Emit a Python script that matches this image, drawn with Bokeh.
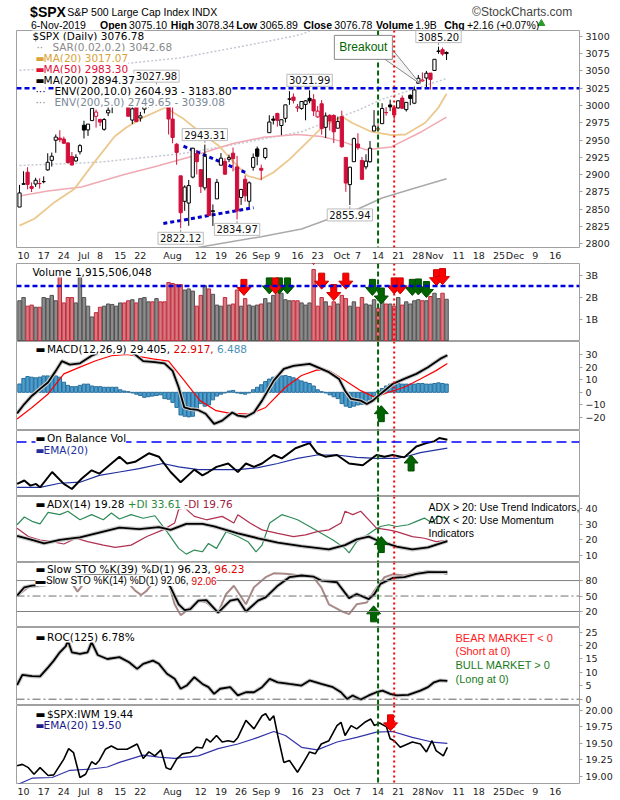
from bokeh.plotting import figure
from bokeh.layouts import column
from bokeh.models import Range1d, FixedTicker, Span, Label, PrintfTickFormatter
from bokeh.embed import file_html
from bokeh.resources import INLINE

# ---------------- data (trading-day index: 0 = 7-Jun-2019) ----------------
tick_idx = [1, 6, 11, 16, 20, 25, 30, 38, 45, 50, 55, 60, 64, 69, 74, 80, 84, 89, 94, 99, 103, 109, 114, 119, 123, 128, 133]
tick_lbl = ["10", "17", "24", "Jul", "8", "15", "22", "Aug", "12", "19", "26", "Sep", "9", "16", "23", "Oct", "7", "14", "21", "28", "Nov", "11", "18", "25", "Dec", "9", "16"]

opens = [2852.87, 2885.83, 2903.27, 2882.73, 2886.24, 2886.82, 2889.75, 2906.71, 2920.55, 2949.60,
         2952.71, 2951.42, 2945.78, 2926.07, 2919.66, 2932.94, 2971.41, 2964.66, 2978.08, 2984.25,
         2979.77, 2965.52, 2989.30, 2999.62, 3003.36, 3017.80, 3012.13, 3005.10, 2978.87, 3004.26,
         2981.93, 2994.74, 2998.77, 3016.26, 3013.25, 3024.47, 3007.66, 3016.22, 2980.32, 2943.90,
         2898.07, 2861.18, 2858.65, 2896.21, 2930.51, 2907.07, 2880.72, 2894.15, 2846.20, 2864.74,
         2913.48, 2919.01, 2922.04, 2930.94, 2911.07, 2866.70, 2893.14, 2861.28, 2910.37, 2937.09,
         2909.01, 2924.67, 2960.60, 2980.33, 2988.43, 2971.01, 2981.41, 3009.08, 3012.21, 2996.41,
         2995.67, 3001.50, 3010.36, 3008.42, 2983.50, 3002.43, 2968.35, 2985.73, 2985.47, 2967.07,
         2983.69, 2924.78, 2885.38, 2918.56, 2944.23, 2920.40, 2911.10, 2918.55, 2963.07, 2965.81,
         2973.61, 2989.68, 3000.77, 2996.84, 2996.48, 3010.73, 2994.01, 3014.78, 3003.32, 3032.12,
         3035.39, 3039.74, 3046.90, 3050.72, 3078.96, 3080.80, 3075.10]
highs = [2884.97, 2904.77, 2910.61, 2888.57, 2895.24, 2894.45, 2897.27, 2930.79, 2931.74, 2958.06,
         2964.15, 2954.92, 2946.52, 2932.59, 2929.30, 2943.98, 2977.93, 2973.21, 2995.84, 2994.03,
         2980.76, 2981.90, 3002.98, 3002.33, 3013.92, 3017.80, 3015.02, 3005.26, 2998.28, 3006.02,
         2990.71, 3005.90, 3019.59, 3016.31, 3027.98, 3025.61, 3017.19, 3017.40, 3013.59, 2945.50,
         2898.07, 2884.40, 2892.17, 2938.72, 2935.75, 2907.58, 2943.31, 2894.15, 2856.67, 2893.63,
         2931.00, 2923.63, 2928.73, 2939.08, 2927.01, 2879.27, 2898.79, 2890.03, 2930.50, 2940.43,
         2914.39, 2938.84, 2985.86, 2985.03, 2989.43, 2979.39, 3000.93, 3020.74, 3017.33, 3002.19,
         3006.21, 3007.83, 3021.99, 3016.37, 2999.15, 3007.98, 2989.82, 2987.28, 2987.31, 2983.85,
         2992.53, 2924.78, 2911.13, 2953.74, 2959.75, 2925.47, 2929.32, 2948.46, 2993.28, 2972.84,
         3003.28, 2997.54, 3008.29, 3000.00, 3007.33, 3014.57, 3004.78, 3016.07, 3027.39, 3044.08,
         3047.87, 3050.10, 3046.90, 3066.95, 3085.20, 3083.95, 3078.34]
lows = [2852.87, 2885.51, 2878.53, 2874.68, 2881.99, 2879.62, 2887.30, 2905.44, 2911.43, 2931.50,
        2946.87, 2944.05, 2916.01, 2912.99, 2918.57, 2929.05, 2952.22, 2955.92, 2977.96, 2967.97,
        2970.09, 2963.44, 2984.62, 2988.80, 3001.87, 3008.77, 3001.15, 2984.25, 2973.09, 2975.86,
        2976.65, 2988.56, 2996.82, 2997.24, 3012.59, 3014.30, 3000.94, 2958.08, 2945.23, 2914.11,
        2822.12, 2847.42, 2825.71, 2894.47, 2900.15, 2873.14, 2877.05, 2839.64, 2825.51, 2864.74,
        2913.48, 2899.60, 2917.91, 2904.51, 2834.97, 2856.00, 2860.59, 2853.05, 2905.67, 2913.32,
        2891.85, 2921.86, 2960.60, 2972.51, 2969.39, 2957.01, 2975.31, 3000.92, 3002.90, 2990.67,
        2993.73, 2978.57, 3003.16, 2984.68, 2982.23, 2957.73, 2952.86, 2963.71, 2945.53, 2967.07,
        2938.70, 2874.93, 2855.94, 2918.56, 2935.68, 2892.66, 2907.41, 2917.12, 2963.07, 2962.94,
        2973.61, 2985.20, 2991.79, 2976.31, 2995.35, 2995.04, 2991.21, 3000.42, 3001.94, 3032.12,
        3034.81, 3025.96, 3023.19, 3050.72, 3074.87, 3072.15, 3065.89]
closes = [2873.34, 2886.73, 2885.72, 2879.84, 2891.64, 2886.98, 2889.67, 2917.75, 2926.46, 2954.18,
          2950.46, 2945.35, 2917.38, 2913.78, 2924.92, 2941.76, 2964.33, 2973.01, 2995.82, 2990.41,
          2975.95, 2979.63, 2993.07, 2999.91, 3013.77, 3014.30, 3004.04, 2984.42, 2995.11, 2976.61,
          2985.03, 3005.47, 3019.56, 3003.67, 3025.86, 3020.97, 3013.18, 2980.38, 2953.56, 2932.05,
          2844.74, 2881.77, 2883.98, 2938.09, 2918.65, 2882.70, 2926.32, 2840.60, 2847.60, 2888.68,
          2923.65, 2900.51, 2924.43, 2922.95, 2847.11, 2878.38, 2869.16, 2887.94, 2924.58, 2926.46,
          2906.27, 2937.78, 2976.00, 2978.71, 2978.43, 2979.39, 3000.93, 3009.57, 3007.39, 2997.96,
          3005.70, 3006.73, 3006.79, 2992.07, 2991.78, 2966.60, 2984.87, 2977.62, 2961.79, 2976.74,
          2940.25, 2887.61, 2910.63, 2952.01, 2938.79, 2893.06, 2919.40, 2938.13, 2970.27, 2966.15,
          2995.68, 2989.69, 2997.95, 2986.20, 3006.72, 2995.99, 3004.52, 3010.29, 3022.55, 3039.42,
          3036.89, 3046.77, 3037.56, 3066.91, 3078.27, 3074.62, 3076.78]
volume_b = [1.85, 2.0, 1.6, 1.65, 1.55, 1.55, 2.0, 1.95, 2.1, 1.85,
            3.0, 1.75, 2.0, 2.0, 1.75, 2.95, 2.0, 1.6, 1.1, 1.3,
            1.55, 1.6, 1.7, 1.68, 1.6, 1.75, 1.75, 1.85, 1.9, 1.75,
            1.95, 2.0, 1.8, 1.8, 1.95, 1.8, 1.8, 2.7, 2.65, 2.6,
            2.6, 2.35, 2.4, 2.3, 1.6, 2.1, 2.55, 2.4, 2.15, 1.65,
            1.6, 2.0, 1.65, 1.7, 2.35, 1.6, 1.95, 1.65, 1.6, 1.65,
            1.7, 1.95, 1.75, 2.1, 2.35, 2.2, 1.9, 1.85, 1.85, 1.85,
            1.75, 1.65, 1.75, 3.3, 1.6, 2.0, 1.8, 1.6, 1.8, 1.7,
            2.1, 1.95, 1.6, 1.8, 1.55, 2.0, 1.7, 1.65, 1.9, 1.5,
            1.95, 1.7, 1.7, 1.6, 2.0, 1.65, 1.8, 1.7, 1.85, 1.9,
            1.85, 1.85, 2.05, 2.2, 1.95, 2.2, 1.92]

ma20_x = [0, 3.7, 8.7, 13.6, 18.6, 23.6, 26.5, 30.5, 36.2, 40.4, 44.7, 49.6, 52.5, 56.6, 59.8, 63, 67, 71.4, 75.4, 80, 82.5, 87.3, 92.3, 95.8, 100.7, 104, 106]
ma20_y = [2826, 2836, 2860, 2879, 2918, 2955, 2968, 2982, 2997, 2982, 2962, 2941, 2922, 2898, 2893, 2903, 2922, 2947, 2970, 2984, 2975, 2962, 2957, 2958, 2975, 2997, 3017]
ma50_x = [0, 7, 15.4, 26, 34, 42, 53, 60.6, 69, 75, 80, 86, 92.3, 99.8, 106]
ma50_y = [2869, 2876, 2882, 2900, 2912, 2925, 2945, 2954, 2958, 2955, 2948, 2936, 2940, 2962, 2983]
ma200_x = [0, 10, 20, 30, 40, 50, 60, 70, 78, 84, 90, 98, 106]
ma200_y = [2774, 2776, 2779, 2783, 2790, 2800, 2810, 2821, 2838, 2850, 2866, 2880, 2894]
env5_x = [0, 20, 40, 50, 60, 70, 78, 84, 90, 98, 106]
env5_y = [2913, 2918, 2930, 2940, 2951, 2962, 2980, 2993, 3009, 3024, 3039]
env10_x = [0, 20, 40, 50, 60, 70, 78, 84, 90, 98, 106]
env10_y = [3051, 3057, 3069, 3080, 3091, 3103, 3122, 3135, 3153, 3168, 3184]
support_level = 3025
vol_level = 2.53
tri_up_x, tri_up_y = [40.7, 56.1], [2941, 2903]
tri_lo_x, tri_lo_y = [35.7, 58.1], [2829, 2852]
note_idx = [34, 46, 40, 54, 72, 82, 104]
note_side = [1, 1, -1, -1, 1, -1, 1]

macd_x = [-0.6, 1.2, 3.1, 5.1, 7.1, 9.0, 10.5, 12.5, 15, 17.9, 21, 24, 26.5, 28.7, 30.7, 33.6, 36, 38, 39.5, 40.9, 42.4, 44.3, 46.2, 48.3, 50.3, 52.8, 54.2, 56.2, 58.2, 60.2, 63.1, 65.6, 68, 72, 73.9, 76.8, 79.3, 80.8, 82.3, 84.7, 86.2, 87.7, 89.6, 92.6, 95.5, 98.5, 101.4, 104.4, 106.2]
macd_y = [-16.7, -9.3, -2.7, 2.7, 8, 17, 24.7, 22, 23, 29, 33, 34.5, 33, 30, 24.7, 24, 23, 17, 4, -12, -13.3, -14, -17, -25, -22.5, -16, -18.5, -19.4, -16, -6.6, 9.3, 18.6, 21, 22.5, 20, 16, 10.6, 1.3, -5.3, -6.6, -9.3, -6.6, -1.3, 6.6, 10.6, 14.6, 19.9, 26.5, 29.4]
sig_x = [-0.6, 3.1, 7.1, 11, 15, 18.9, 22.8, 26.7, 33.1, 37, 40.9, 44.8, 48.8, 52.3, 57.2, 61.1, 66, 70, 73.9, 76.8, 80.8, 84.7, 88.2, 91.6, 95.5, 99.5, 103.4, 106.2]
sig_y = [-21.2, -12, -1.3, 14.6, 20, 25, 29, 30, 26.5, 24.7, 9.3, -6.6, -14.6, -16.7, -17.2, -12, 4, 13.3, 17.8, 17.2, 9.3, 1.3, -4, 0, 4, 10.6, 17.2, 22.9]
macd_hist = [6.6, 11, 12.5, 12, 11.5, 12, 13, 13, 13, 13,
             12, 8, 5.5, 4.5, 4.5, 5.5, 6.5, 6.5, 5, 4.5,
             4.5, 4, 4, 4, 4, 2, 1, 0.5, -0.5, -1.5,
             -2.5, -4, -3.5, -3, -2.5, -2, -5, -5.5, -8, -12,
             -18, -19, -19.5, -19, -13, -9, -11, -10, -6, -3,
             -1.5, -0.5, 1, 1.5, -0.5, -1, -1.5, -0.5, 2, 4,
             6, 8.5, 10.5, 12, 13, 13, 13.3, 12.5, 11.5, 10,
             9, 8, 7, 5, 2, 0.5, -0.5, -2, -3.5, -5,
             -9, -11, -12, -11, -10, -9.5, -8, -6, -3, 1,
             3, 5, 6.5, 7, 7, 6.5, 6.5, 6.5, 6.5, 7,
             7, 6.5, 6.5, 7, 7.5, 7, 6.5]

obv_x = [-0.6, 1.2, 2.7, 4.1, 5.1, 8.1, 11, 13, 15.4, 17.9, 19.8, 24.8, 26.7, 28.7, 32.1, 34.6, 37.5, 40, 43.4, 45.4, 46.9, 48.9, 51.8, 54.2, 56.2, 58.2, 60.2, 63.1, 65.1, 68.5, 72, 73.9, 75.9, 78.8, 81.8, 85.2, 88.6, 90.6, 92.6, 95.5, 98.5, 101, 102.9, 104.2, 106.2]
obv_y = [37, 47, 32, 37, 27, 72, 37, 22, 52, 77, 67, 117, 97, 102, 127, 117, 72, 42, 79, 62, 72, 87, 97, 72, 97, 87, 97, 122, 112, 142, 157, 127, 117, 122, 97, 92, 122, 117, 122, 115, 147, 157, 162, 172, 167]
obv_ema_x = [-0.6, 5.1, 10, 15, 19.8, 24.8, 29.7, 35.6, 39.5, 44.4, 54.2, 59.2, 64.1, 69, 73.9, 78.8, 83.7, 88.6, 93.6, 96.5, 99.5, 106.2]
obv_ema_y = [27, 27, 39, 42, 62, 72, 82, 97, 87, 79, 79, 85, 97, 112, 122, 122, 115, 112, 112, 119, 129, 142]
obv_level = 160

adx_x = [-0.6, 3.1, 6.1, 10, 15, 19.8, 24.8, 29.7, 34.6, 37.5, 41.4, 45.4, 48.3, 54.2, 59.2, 64.1, 70, 76.8, 80.8, 83.7, 86.7, 88.6, 93.6, 97.5, 101.4, 106.2]
adx_y = [22.6, 20, 17.8, 20, 21.7, 24.8, 28, 27, 28.3, 26.5, 30.4, 30.4, 28.7, 24.3, 21.1, 18.3, 16, 13.9, 16.7, 20.4, 22.2, 20, 15.7, 13.9, 15.2, 19.3]
pdi_x = [-0.6, 1.2, 3.1, 5.1, 7.1, 10, 12, 15, 17.9, 20.8, 22.8, 24.8, 27.7, 30.7, 33.6, 36.6, 39.5, 41.4, 43.4, 45.4, 46.9, 48.9, 51.3, 54.2, 56.7, 58.7, 60.2, 62.1, 65.1, 67, 69, 72, 74.9, 77.8, 80.8, 81.8, 83.7, 85.7, 88.1, 89.6, 91.6, 93.6, 96.5, 98.5, 100.5, 102.4, 103.9, 106.2]
pdi_y = [29.8, 34.8, 32, 30.4, 37.8, 36.3, 38.5, 33, 36.3, 33, 37.4, 33.5, 36.3, 34, 35.6, 25.4, 14.6, 10.9, 13.5, 12.4, 17.8, 14.6, 25.4, 22.2, 18.9, 12.4, 16.7, 30.9, 36.3, 34.8, 33, 28.7, 24.3, 20, 14.6, 11.7, 18.9, 22.2, 26.5, 28.7, 29.8, 28.7, 29.8, 32, 34.1, 30.9, 35.6, 33.6]
mdi_x = [-0.6, 2.2, 5.1, 8.1, 11, 14, 16.9, 20.8, 23.8, 27.7, 31.6, 35.6, 38.5, 39.5, 41, 43.4, 46.4, 50.3, 53.2, 54.2, 57.2, 60.2, 64.1, 68, 71, 73.9, 76.8, 79.8, 80.8, 82.7, 84.7, 86.7, 88.6, 91.6, 93.6, 97.5, 100.5, 103.4, 106.2]
mdi_y = [27.6, 22.2, 20, 18.9, 17.4, 21.1, 18.9, 16.7, 15.2, 16.7, 22.2, 26.5, 30.9, 39.6, 40.7, 35.2, 33, 35.2, 30.9, 36.3, 30.9, 26.5, 24.3, 22.2, 23.3, 25.4, 26.5, 30.9, 38.5, 36.3, 38.5, 33, 27.6, 26.5, 25.4, 22.2, 21.1, 18.9, 19.8]

k39_x = [-0.6, 1.2, 3.1, 6.1, 8, 12, 16, 20, 24, 28, 32, 35.5, 37.5, 39.5, 41, 42.4, 44.4, 46.4, 49.3, 52.3, 54.2, 56.2, 59.2, 61.1, 64.1, 67, 70, 72.9, 74.9, 78.8, 81.8, 83.7, 86.7, 88.1, 89.6, 92.6, 95.5, 98.5, 101.4, 106.2]
k39_y = [50.7, 67, 70, 71.5, 78, 85, 90, 92, 93, 90, 88, 86, 67, 34, 22.6, 24.6, 41, 42, 18, 41, 44, 20, 41, 47.4, 70, 86.5, 89.8, 87.8, 80, 76.7, 46, 54, 44, 54, 73.5, 85, 86.5, 93, 96.3, 96.2]
k14_x = [-0.6, 2.2, 6.1, 10, 13, 14.4, 16, 20, 25, 28.7, 30.2, 31.6, 34, 36.6, 38.5, 40, 41.4, 44.4, 46.4, 49.3, 51.3, 53.2, 56.2, 58.2, 61.1, 63.1, 66, 70, 72.9, 74.9, 76.8, 79.8, 81.8, 83.7, 86.2, 88.1, 90.6, 92.6, 95.5, 98.5, 101.4, 104.4, 106.2]
k14_y = [50.7, 67, 72, 85, 75, 58.5, 75, 90, 92, 60.5, 52, 60.5, 85, 86.5, 34, 13, 21, 42, 37.6, 18, 54, 70, 34, 67, 86.5, 94, 93, 90, 86.5, 67, 34, 21, 15, 34, 37.6, 60.5, 86.5, 92, 90, 94.5, 98.3, 96.3, 92.1]

roc_x = [-0.6, 0.7, 3.1, 5.1, 7.1, 8.5, 10, 11.5, 12, 13, 15, 16.9, 17.9, 19.4, 21.8, 24.8, 27.2, 29.2, 30.7, 33.1, 34.6, 36.6, 38.5, 40, 41.5, 43.4, 45.4, 46.9, 48.3, 49.8, 52.3, 54.2, 56.2, 58.2, 60.2, 62.1, 64.1, 67, 70, 72, 74.9, 77.8, 79.8, 81.3, 82.7, 84.7, 86.7, 88.6, 90.1, 92, 93.6, 96.5, 99.5, 101.4, 102.9, 104.4, 106.2]
roc_y = [5.3, 9.1, 8.6, 8.5, 11.9, 14.4, 17.5, 19.8, 21.9, 17.5, 16.9, 17.5, 21.3, 16.5, 15, 15.7, 13.8, 11.3, 13.2, 14.4, 13.2, 9.5, 7.6, 3.9, 5.1, 8.2, 5.7, 4.5, 2, 3.9, 4.5, 1.4, 2.6, 2.6, 4.5, 7.6, 6.3, 5.7, 5.1, 7, 5.7, 4.5, 2.6, 0.1, 1.4, -0.1, 1.4, 2.6, 3.2, 2, 1.4, 1.6, 3.2, 4.5, 6.3, 7, 6.8]

iwm_x = [-0.6, 0.7, 2.2, 3.6, 5.1, 7.1, 8.5, 11, 12.2, 13.4, 15, 16.4, 17.9, 18.9, 19.8, 21.3, 22.8, 24.3, 26.7, 29.2, 30.7, 32.1, 33.6, 35.1, 36.4, 37.5, 39, 40.4, 42.4, 43.9, 45.4, 46.4, 47.4, 48.9, 50.3, 51.8, 53.2, 54.2, 56.2, 58.2, 60.2, 61.1, 62.1, 63.1, 64.1, 65.6, 67, 69, 70.5, 72, 73.4, 74.9, 76.8, 78.8, 79.8, 80.8, 82.3, 83.7, 85.7, 87.2, 88.1, 89.4, 91.1, 92, 93, 94.5, 97.5, 99.5, 101, 102.4, 103.4, 105.2, 106.2]
iwm_y = [19.16, 19.18, 19.13, 19.03, 19.13, 19.01, 19.02, 19.26, 19.42, 19.36, 18.98, 19.03, 19.22, 19.18, 19.24, 19.41, 19.46, 19.41, 19.41, 19.49, 19.27, 19.37, 19.31, 19.40, 19.13, 19.10, 19.26, 19.34, 19.36, 19.44, 19.43, 19.57, 19.52, 19.62, 19.52, 19.54, 19.52, 19.59, 19.85, 19.72, 19.92, 19.95, 19.85, 19.92, 19.62, 19.21, 19.24, 19.06, 19.21, 19.37, 19.34, 19.49, 19.54, 19.77, 19.82, 19.62, 19.77, 19.72, 19.82, 19.87, 19.77, 19.81, 19.75, 19.57, 19.54, 19.44, 19.52, 19.49, 19.37, 19.54, 19.39, 19.31, 19.44]
iwm_ema_x = [-0.6, 3.1, 8.1, 12.5, 17.9, 21.8, 24.8, 30.7, 34.6, 38.5, 44.4, 49.3, 54.2, 59.2, 63.1, 66, 70, 73.9, 78.8, 83.7, 88.6, 92.6, 97.5, 102.4, 106.2]
iwm_ema_y = [18.87, 18.97, 18.98, 19.09, 19.11, 19.14, 19.21, 19.32, 19.29, 19.27, 19.31, 19.42, 19.49, 19.59, 19.68, 19.62, 19.44, 19.40, 19.52, 19.59, 19.67, 19.68, 19.59, 19.52, 19.50]

signal_green_day = 89
signal_red_day = 93
vol_arrow_red_x = [55.7, 63.5, 73, 75, 78, 81, 93, 94.5, 103.5, 105]
vol_arrow_red_tip = [2.1, 2.17, 3.53, 2.39, 1.86, 2.39, 2.17, 2.17, 2.55, 2.6]
vol_arrow_green_x = [62, 64.5, 66.5, 87.6, 89.8, 97.5, 99, 101]
vol_arrow_green_tip = [2.17, 2.17, 2.17, 2.1, 1.7, 2.1, 2.12, 2.0]

assert len(opens) == len(highs) == len(lows) == len(closes) == len(volume_b) == len(macd_hist) == 107

# ---------------- styling helpers ----------------
FONT = "DejaVu Sans"
ARIAL = "Liberation Sans"
AXF = "9.5px"
XR = Range1d(-0.75, 139)
PPX = 563 / 139.75
RED = "#d0103a"
GREEN_ARROW = "#006400"
RED_ARROW = "#ff0000"

DJ = {c: 0.636 for c in "0123456789$"}
DJ.update({' ': 0.318, '.': 0.318, ',': 0.318, '(': 0.390, ')': 0.390, '%': 0.950, '+': 0.838, '-': 0.361,
           ':': 0.337, 'A': 0.684, 'B': 0.686, 'C': 0.698, 'D': 0.770, 'E': 0.632, 'I': 0.295, 'K': 0.656,
           'L': 0.557, 'M': 0.863, 'N': 0.748, 'O': 0.787, 'P': 0.603, 'R': 0.695, 'S': 0.635, 'T': 0.611,
           'V': 0.684, 'W': 0.989, 'X': 0.685, 'a': 0.613, 'b': 0.635, 'c': 0.550, 'd': 0.635, 'e': 0.615,
           'i': 0.278, 'l': 0.278, 'm': 0.974, 'n': 0.634, 'o': 0.612, 'r': 0.411, 's': 0.521, 't': 0.392,
           'u': 0.634, 'v': 0.592, 'w': 0.818, 'y': 0.592, '\u25ac': 0.77})
AR = {c: 0.556 for c in "0123456789$"}
AR.update({' ': 0.278, '.': 0.278, ',': 0.278, '(': 0.333, ')': 0.333, '%': 0.889, 'S': 0.667, 'T': 0.611,
           'O': 0.778, 'K': 0.667, 'D': 0.722, 'l': 0.222, 'o': 0.556, 'w': 0.722, '\u25ac': 0.77})


def tw(s, size, font):
    table = AR if font == ARIAL else DJ
    return sum(table.get(c, 0.6) for c in s) * size


def panel(h, y0, y1, yticks, bottom=0, fmt=None):
    p = figure(width=620, height=h, x_range=XR, y_range=Range1d(y0, y1),
               output_backend="svg", toolbar_location=None,
               min_border_left=16, min_border_right=41, min_border_top=0,
               min_border_bottom=bottom, y_axis_location="right",
               x_axis_location=("below" if bottom else None))
    p.grid.visible = False
    p.outline_line_color = "#a0a0a0"
    ya = p.yaxis[0]
    ya.ticker = FixedTicker(ticks=yticks, minor_ticks=[])
    if fmt is not None:
        ya.formatter = fmt
    ya.axis_line_color = None
    ya.major_tick_in = 0
    ya.major_tick_out = 3
    ya.major_tick_line_color = "#a0a0a0"
    ya.minor_tick_line_color = None
    ya.major_label_text_font = FONT
    ya.major_label_text_font_size = AXF
    ya.major_label_text_color = "#222222"
    ya.major_label_standoff = 3
    if bottom:
        xa = p.xaxis[0]
        xa.ticker = FixedTicker(ticks=tick_idx, minor_ticks=[])
        xa.major_label_overrides = dict(zip(tick_idx, tick_lbl))
        xa.axis_line_color = None
        xa.major_tick_in = 0
        xa.major_tick_out = 0
        xa.minor_tick_line_color = None
        xa.major_label_text_font = FONT
        xa.major_label_text_font_size = AXF
        xa.major_label_text_color = "#222222"
        xa.major_label_standoff = 2
    p.add_layout(Span(location=signal_green_day, dimension="height", line_color="#006400",
                      line_dash="5 3", line_width=2))
    p.add_layout(Span(location=signal_red_day, dimension="height", line_color="#ff0000",
                      line_dash="2 3", line_width=2))
    return p


def legend(p, off, parts, x0=16, size=10.5, font=FONT):
    x = x0
    for text, color in parts:
        p.add_layout(Label(x=p.x_range.start, y=p.y_range.end, x_offset=x, y_offset=-off, text=text,
                           text_color=color, text_font=font, text_font_size=f"{size}px",
                           text_baseline="middle", background_fill_color="white"))
        x += tw(text, size, font)


def note(p, off, x_px, text, color, size=11):
    p.add_layout(Label(x=p.x_range.start, y=p.y_range.end, x_offset=x_px, y_offset=-off, text=text,
                       text_color=color, text_font=ARIAL, text_font_size=f"{size}px", text_baseline="middle"))


def arrows(p, xs, tips, up, ppu, fill, line):
    shape = [(0, 0), (7, 8), (3, 8), (3, 16), (-3, 16), (-3, 8), (-7, 8)]
    sgn = -1 if up else 1
    XS = [[x + dx / PPX for dx, dy in shape] for x in xs]
    YS = [[t + sgn * dy / ppu for dx, dy in shape] for t in tips]
    p.patches(XS, YS, fill_color=fill, line_color=line, line_width=1)


idx = list(range(len(closes)))
prev = [closes[0]] + closes[:-1]
ccol = [RED if c < pc else "#000000" for c, pc in zip(closes, prev)]
cfill = ["white" if c > o else col for c, o, col in zip(closes, opens, ccol)]
btop = [max(o, c) for o, c in zip(opens, closes)]
bbot = [min(o, c) for o, c in zip(opens, closes)]

# ---------------- header ----------------
hd = figure(width=620, height=30, x_range=Range1d(0, 620), y_range=Range1d(30, 0),
            output_backend="svg", toolbar_location=None, min_border=0,
            x_axis_location=None, y_axis_location=None, outline_line_color=None)
hd.grid.visible = False


def htext(x, y, text, size, bold=False, color="#000000", align="left"):
    hd.add_layout(Label(x=x, y=y, text=text, text_font=ARIAL, text_font_size=size,
                        text_font_style=("bold" if bold else "normal"), text_color=color,
                        text_align=align, text_baseline="middle"))


htext(15, 11, "$SPX", "14px", bold=True)
htext(56, 11, "S&P 500 Large Cap Index INDX", "10.5px")
htext(612, 11, "\u00a9StockCharts.com", "12px", color="#444444", align="right")
htext(16, 24, "6-Nov-2019", "10.5px")
hdr_keys = ["Open", "High", "Low", "Close", "Volume", "Chg"]
hdr_vals = ["3075.10", "3078.34", "3065.89", "3076.78", "1.9B", "+2.16 (+0.07%)"]
for kx, k, vx, v in zip([92, 170, 242, 316, 396, 471], hdr_keys, [124, 198, 268, 350, 439, 496], hdr_vals):
    htext(kx, 24, k, "10.5px", bold=True)
    htext(vx, 24, v, "10.5px")
hd.scatter(x=[578], y=[23], marker="triangle", size=7, fill_color="#2a9a2a", line_color="#2a9a2a")

# ---------------- main price panel ----------------
MAIN_LO, MAIN_HI = 2794.3, 3108.6
pm = panel(233, MAIN_LO, MAIN_HI, list(range(2800, 3101, 25)), bottom=14)
ppu_m = 219 / (MAIN_HI - MAIN_LO)
pm.line(env10_x, env10_y, line_color="#c4c8d2", line_dash="2 2", line_width=1.5)
pm.line(env5_x, env5_y, line_color="#c4c8d2", line_dash="2 2", line_width=1.5)
pm.line(ma200_x, ma200_y, line_color="#aaaaaa", line_width=1.5)
pm.line(ma50_x, ma50_y, line_color="#f0a9b2", line_width=1.5)
pm.line(ma20_x, ma20_y, line_color="#ecc88e", line_width=1.8)
pm.add_layout(Span(location=support_level, dimension="width", line_color="#0000dd",
                   line_dash="5 3", line_width=2.5))
pm.line(tri_up_x, tri_up_y, line_color="#0000cc", line_dash="4 3", line_width=3)
pm.line(tri_lo_x, tri_lo_y, line_color="#0000cc", line_dash="4 3", line_width=3)
pm.segment(x0=idx, y0=lows, x1=idx, y1=highs, line_color=ccol, line_width=1)
pm.vbar(x=idx, top=btop, bottom=bbot, width=0.8, fill_color=cfill, line_color=ccol, line_width=1)

for i, s in zip(note_idx, note_side):
    v = highs[i] if s > 0 else lows[i]
    pm.segment(x0=[i], y0=[v + s * 1.5 / ppu_m], x1=[i], y1=[v + s * 5 / ppu_m], line_color="#999999")
    pm.add_layout(Label(x=i, y=v, y_offset=s * 10, text=f"{v:.2f}", text_align="center",
                        text_baseline="middle", text_font=FONT, text_font_size="10px",
                        text_color="#111111", background_fill_color="white",
                        border_line_color="#bbbbbb", padding=2))
pm.patch([89.6, 92.5, 99.5], [3071.3, 3081.4, 3031.1], fill_color="#f4f4f4", line_color="#888888")
pm.add_layout(Label(x=85.35, y=3084.2, text="Breakout", text_align="center", text_baseline="middle",
                    text_font=ARIAL, text_font_size="12px", text_color="#006400",
                    background_fill_color="white", border_line_color="#888888", padding=5))
legend(pm, 5, [("$SPX (Daily) 3076.78", "#000000")])
legend(pm, 16, [("\u00b7\u00b7 ", "#8a8a8a"), ("SAR(0.02,0.2) 3042.68", "#8a8a8a")], x0=20)
legend(pm, 27, [("\u25ac", "#d9a23a"), ("MA(20) 3017.07", "#d9a23a")], x0=19)
legend(pm, 38, [("\u25ac", "#e0103c"), ("MA(50) 2983.30", "#e0103c")], x0=19)
legend(pm, 49, [("\u25ac", "#000000"), ("MA(200) 2894.37", "#000000")], x0=19)
legend(pm, 60, [("\u00b7\u00b7\u00b7", "#000055"), ("ENV(200,10.0) 2604.93 - 3183.80", "#000000")], x0=19)
legend(pm, 71, [("\u00b7\u00b7\u00b7", "#7b8a99"), ("ENV(200,5.0) 2749.65 - 3039.08", "#7b8a99")], x0=19)

# ---------------- volume ----------------
V_LO, V_HI = -0.04, 3.58
pv = panel(78, V_LO, V_HI, [1, 2, 3], fmt=PrintfTickFormatter(format="%dB"))
ppu_v = 78 / (V_HI - V_LO)
vfill = ["#d77a80" if c == RED else "#8c8c8c" for c in ccol]
vline = ["#c02a3c" if c == RED else "#505050" for c in ccol]
pv.vbar(x=idx, top=volume_b, bottom=0, width=0.85, fill_color=vfill, line_color=vline, line_width=1)
pv.add_layout(Span(location=vol_level, dimension="width", line_color="#0000dd", line_dash="5 3", line_width=2.5))
arrows(pv, vol_arrow_green_x, vol_arrow_green_tip, False, ppu_v, GREEN_ARROW, "#004d00")
arrows(pv, vol_arrow_red_x, vol_arrow_red_tip, False, ppu_v, RED_ARROW, "#cc0000")
legend(pv, 8, [("Volume 1,915,506,048", "#000000")])

# ---------------- MACD ----------------
M_LO, M_HI = -30.3, 40.3
pc = panel(89, M_LO, M_HI, [-20, -10, 0, 10, 20, 30])
pc.vbar(x=idx, top=macd_hist, bottom=0, width=0.85, fill_color="#4a9fd0", line_color="#2a6f9a", line_width=1)
pc.line(sig_x, sig_y, line_color="#ff0000", line_width=1.2)
pc.line(macd_x, macd_y, line_color="#c8c8c8", line_width=4)
pc.line(macd_x, macd_y, line_color="#000000", line_width=1.8)
arrows(pc, [89.8], [-10.6], True, 89 / (M_HI - M_LO), GREEN_ARROW, "#004d00")
legend(pc, 7, [("\u25ac ", "#000000"), ("MACD(12,26,9) 29.405, ", "#000000"), ("22.917, ", "#e00000"),
               ("6.488", "#4a90b8")], x0=19)

# ---------------- OBV ----------------
O_LO, O_HI = 0, 194
po = panel(66, O_LO, O_HI, [])
po.add_layout(Span(location=obv_level, dimension="width", line_color="#0000ff", line_dash="10 5", line_width=1.5))
po.line(obv_ema_x, obv_ema_y, line_color="#2030a0", line_width=1.2)
po.line(obv_x, obv_y, line_color="#000000", line_width=2)
arrows(po, [97.2], [122], True, 66 / (O_HI - O_LO), GREEN_ARROW, "#004d00")
legend(po, 7, [("\u25ac ", "#000000"), ("On Balance Vol", "#000000")], x0=19)
legend(po, 19, [("\u25ac", "#2030a0"), ("EMA(20)", "#2030a0")], x0=19)

# ---------------- ADX ----------------
A_LO, A_HI = 5.5, 48
pa = panel(66, A_LO, A_HI, [10, 20, 30, 40])
pa.line(pdi_x, pdi_y, line_color="#2e8b57", line_width=1.2)
pa.line(mdi_x, mdi_y, line_color="#b03050", line_width=1.2)
pa.line(adx_x, adx_y, line_color="#c8c8c8", line_width=4)
pa.line(adx_x, adx_y, line_color="#000000", line_width=1.8)
arrows(pa, [89.8], [22.2], True, 66 / (A_HI - A_LO), GREEN_ARROW, "#004d00")
legend(pa, 7, [("\u25ac ", "#000000"), ("ADX(14) 19.28 ", "#000000"), ("+DI 33.61 ", "#2a8a40"),
               ("-DI 19.76", "#a02040")], x0=19)
note(pa, 10, 412, "ADX > 20: Use Trend Indicators,", "#000000", 10.5)
note(pa, 23, 412, "ADX < 20: Use Momentum", "#000000", 10.5)
note(pa, 36, 412, "Indicators", "#000000", 10.5)

# ---------------- Slow Stochastics ----------------
S_LO, S_HI = -11, 115
ps = panel(65, S_LO, S_HI, [20, 50, 80])
ps.add_layout(Span(location=80, dimension="width", line_color="#808080", line_width=1))
ps.add_layout(Span(location=20, dimension="width", line_color="#808080", line_width=1))
ps.add_layout(Span(location=50, dimension="width", line_color="#707070", line_dash="8 3 2 3", line_width=1))
ps.line(k14_x, k14_y, line_color="#a88a88", line_width=2)
ps.line(k39_x, k39_y, line_color="#c8c8c8", line_width=4)
ps.line(k39_x, k39_y, line_color="#000000", line_width=1.8)
arrows(ps, [87.9], [31], True, 65 / (S_HI - S_LO), GREEN_ARROW, "#004d00")
legend(ps, 6, [("\u25ac ", "#000000"), ("Slow STO %K(39) %D(1) 96.23, ", "#000000"), ("96.23", "#e00000")], x0=19)
legend(ps, 18, [("\u25ac ", "#000000"), ("Slow STO %K(14) %D(1) 92.06, ", "#000000"), ("92.06", "#e00000")],
       x0=19, size=10, font=ARIAL)

# ---------------- ROC ----------------
R_LO, R_HI = -2.35, 26.75
pr = panel(78, R_LO, R_HI, [0, 5, 10, 15, 20, 25])
pr.add_layout(Span(location=0, dimension="width", line_color="#606060", line_dash="8 3 2 3", line_width=1))
pr.line(roc_x, roc_y, line_color="#c8c8c8", line_width=4)
pr.line(roc_x, roc_y, line_color="#000000", line_width=1.8)
legend(pr, 9, [("\u25ac ", "#000000"), ("ROC(125) 6.78%", "#000000")], x0=19)
note(pr, 10, 439, "BEAR MARKET < 0", "#ff2020", 11)
note(pr, 23, 439, "(Short at 0)", "#ff2020", 11)
note(pr, 37, 439, "BULL MARKET > 0", "#1a7a1a", 11)
note(pr, 51, 439, "(Long at 0)", "#1a7a1a", 11)

# ---------------- $SPX:IWM ----------------
I_LO, I_HI = 18.889, 20.076
pi = panel(95, I_LO, I_HI, [19.0, 19.25, 19.5, 19.75, 20.0], bottom=17, fmt=PrintfTickFormatter(format="%.2f"))
pi.line(iwm_ema_x, iwm_ema_y, line_color="#3333aa", line_width=1.2)
pi.line(iwm_x, iwm_y, line_color="#000000", line_width=1.6)
arrows(pi, [92.1], [19.69], False, 78 / (I_HI - I_LO), RED_ARROW, "#cc0000")
legend(pi, 8, [("\u25ac ", "#000000"), ("$SPX:IWM 19.44", "#000000")], x0=19)
legend(pi, 19, [("\u25ac", "#1a1a8a"), ("EMA(20) 19.50", "#1a1a8a")], x0=19)

layout = column(hd, pm, pv, pc, po, pa, ps, pr, pi, spacing=0)
open("out.html", "w").write(file_html(layout, INLINE))
